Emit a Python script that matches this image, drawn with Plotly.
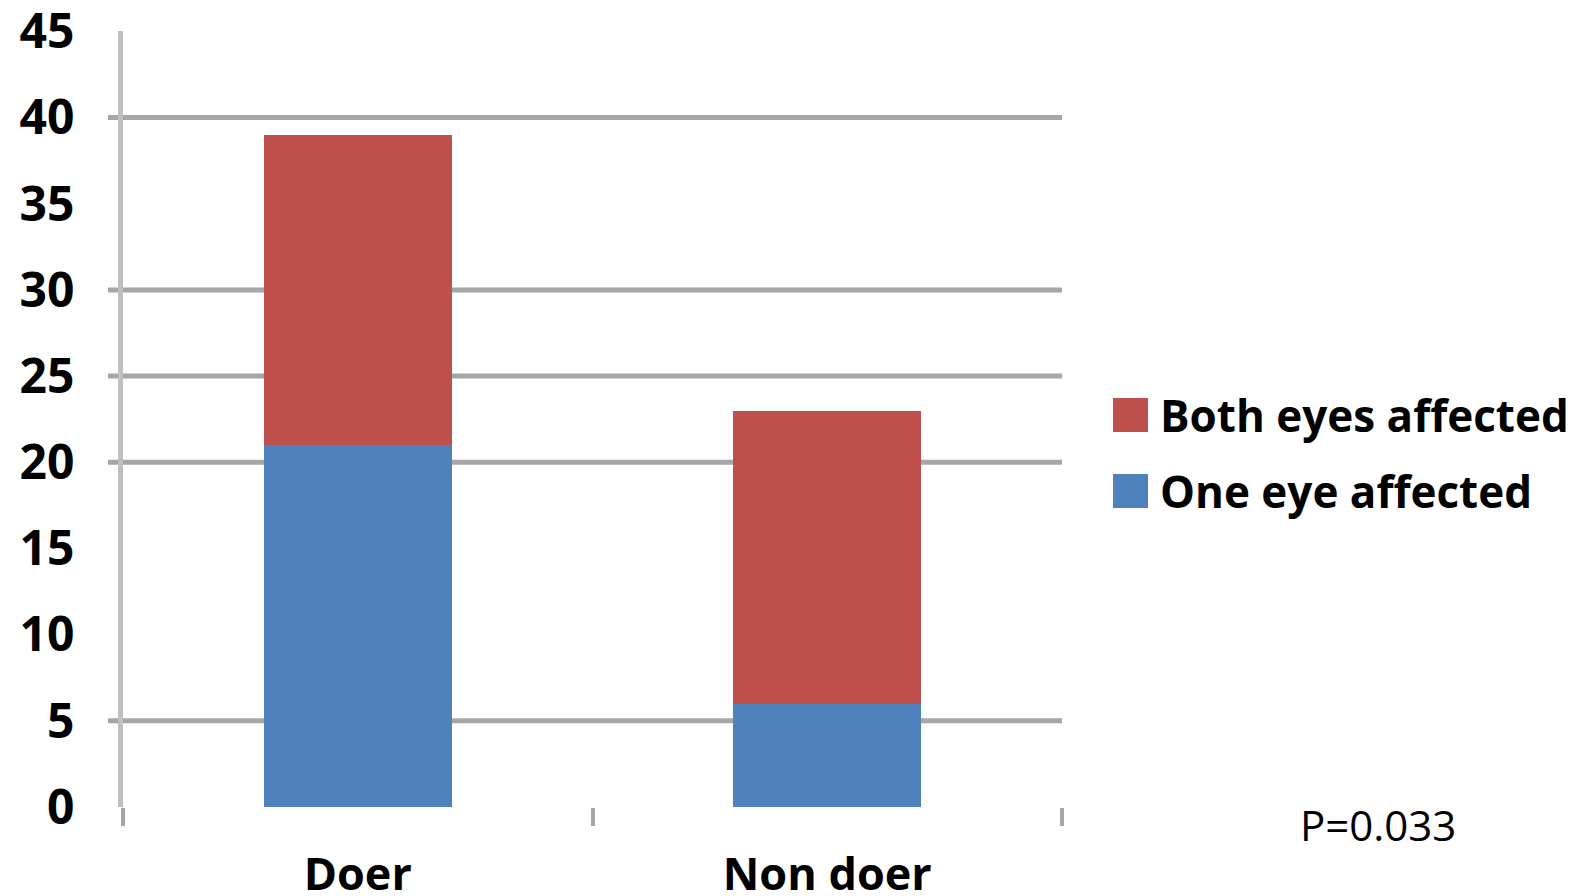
import plotly.graph_objects as go

# --- data -----------------------------------------------------------------
categories = ["Doer", "Non doer"]
one_eye = [21, 6]
both_eyes = [18, 17]
series_names = ["One eye affected", "Both eyes affected"]
y_ticks = [0, 5, 10, 15, 20, 25, 30, 35, 40, 45]
grid_levels = [5, 20, 25, 30, 40]
p_label = "P=0.033"

# --- layout geometry (pixels) ---------------------------------------------
W, H = 1583, 896
L, R, T, B = 123, 1062, 31, 807
Y_MAX = 45.02


def px_x(px):
    return (px - L) / (R - L)


def px_y(py):
    return (B - py) / (B - T)


BLUE = "#4F81BD"
RED = "#C0504D"
GRID = "#a6a6a6"
AXIS = "#bfbfbf"

fig = go.Figure()
fig.add_trace(go.Bar(x=categories, y=one_eye, name=series_names[0],
                     marker=dict(color=BLUE, line=dict(width=0)),
                     showlegend=False))
fig.add_trace(go.Bar(x=categories, y=both_eyes, name=series_names[1],
                     marker=dict(color=RED, line=dict(width=0)),
                     showlegend=False))

# horizontal gridlines at the drawn levels, behind the bars
for lvl in grid_levels:
    fig.add_shape(type="line", xref="paper", yref="y",
                  x0=px_x(108), x1=1.0, y0=lvl, y1=lvl,
                  line=dict(color=GRID, width=5), layer="below")

# legend: colour swatches with text labels
legend_rows = [(series_names[1], RED, 415), (series_names[0], BLUE, 491)]
for name, color, cy in legend_rows:
    fig.add_shape(type="rect", xref="paper", yref="paper",
                  x0=px_x(1113), x1=px_x(1148),
                  y0=px_y(cy + 17), y1=px_y(cy - 17),
                  fillcolor=color, line=dict(width=0))
    fig.add_annotation(text=name, xref="paper", yref="paper",
                       x=px_x(1158), y=px_y(cy), xanchor="left",
                       yanchor="middle", showarrow=False,
                       font=dict(family="Open Sans", size=44,
                                 color="#000", weight="bold"))

fig.add_annotation(text=p_label, xref="paper", yref="paper",
                   x=px_x(1378), y=px_y(825), xanchor="center",
                   yanchor="middle", showarrow=False,
                   font=dict(family="Open Sans", size=42, color="#000"))

fig.update_layout(
    width=W, height=H,
    margin=dict(l=L, r=W - R, t=T, b=H - B),
    paper_bgcolor="white", plot_bgcolor="white",
    barmode="stack", bargap=0.6,
    showlegend=False,
    xaxis=dict(
        showgrid=False, zeroline=False, showline=False, automargin=False,
        ticks="outside", tickson="boundaries", ticklen=18,
        tickwidth=4, tickcolor=GRID, ticklabelstandoff=37,
        ticklabeloverflow="allow",
        tickfont=dict(family="Open Sans", size=45, color="#000",
                      weight="bold"),
    ),
    yaxis=dict(
        range=[0, Y_MAX], tickvals=y_ticks, showgrid=False, zeroline=False,
        showline=True, linecolor=AXIS, linewidth=5, automargin=False,
        ticks="", ticklabelstandoff=34, ticklabeloverflow="allow",
        tickfont=dict(family="Open Sans", size=48, color="#000",
                      weight="bold"),
    ),
)

fig.write_html("out.html")
